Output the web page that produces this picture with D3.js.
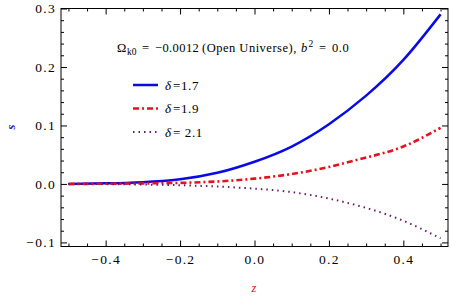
<!DOCTYPE html>
<html><head><meta charset="utf-8">
<script src="https://cdn.jsdelivr.net/npm/d3@7"></script>
<style>body{margin:0;background:#fff}svg{display:block}svg text{font-family:"Liberation Serif","Times New Roman",Times,"DejaVu Serif",serif}</style>
</head><body><svg id="c" width="450" height="298"></svg>
<script>
const zValues = [-0.5,-0.4,-0.3,-0.2,-0.1,0.0,0.1,0.2,0.3,0.4,0.5];
const sDelta17 = [0,0.001,0.003,0.008,0.019,0.038,0.064,0.102,0.151,0.212,0.290];
const sDelta19 = [0,0.0003,0.0009,0.0018,0.0042,0.009,0.017,0.029,0.045,0.064,0.096];
const sDelta21 = [0,-0.0003,-0.001,-0.0022,-0.0045,-0.008,-0.014,-0.025,-0.041,-0.063,-0.093];
const seriesLabels = ["=1.7","=1.9","= 2.1"];
const xMajor = [-0.4,-0.2,0.0,0.2,0.4];
const yMajor = [-0.1,0.0,0.1,0.2,0.3];

const svg = d3.select("#c");
const L=61,R=448,T=8.5,B=246.5;
const x = d3.scaleLinear().domain([-0.52,0.52]).range([L,R]);
const y = d3.scaleLinear().domain([-0.107,0.3]).range([B,T]);
const fmt = d3.format(".1f");
const xMinor = d3.range(-0.5,0.5001,0.05).map(v=>+v.toFixed(3)).filter(v=>!xMajor.some(m=>Math.abs(m-v)<1e-6));
const yMinor = d3.range(-0.1,0.3001,0.02).map(v=>+v.toFixed(3)).filter(v=>!yMajor.some(m=>Math.abs(m-v)<1e-6));

function styleAxis(g){g.attr("font-family",null);g.select(".domain").remove();g.selectAll("line").attr("stroke","#000");g.selectAll("text").attr("font-size",13.5).attr("letter-spacing",1.3).attr("fill","#000");}
svg.append("g").attr("transform",`translate(0,${B})`).call(d3.axisBottom(x).tickValues(xMajor).tickSize(-6).tickPadding(8).tickFormat(fmt)).call(styleAxis);
svg.append("g").attr("transform",`translate(0,${B})`).call(d3.axisBottom(x).tickValues(xMinor).tickSize(-3).tickFormat("")).call(styleAxis);
svg.append("g").attr("transform",`translate(0,${T})`).call(d3.axisTop(x).tickValues(xMajor).tickSize(-6).tickFormat("")).call(styleAxis);
svg.append("g").attr("transform",`translate(0,${T})`).call(d3.axisTop(x).tickValues(xMinor).tickSize(-3).tickFormat("")).call(styleAxis);
svg.append("g").attr("transform",`translate(${L},0)`).call(d3.axisLeft(y).tickValues(yMajor).tickSize(-6).tickPadding(5).tickFormat(fmt)).call(styleAxis);
svg.append("g").attr("transform",`translate(${L},0)`).call(d3.axisLeft(y).tickValues(yMinor).tickSize(-3).tickFormat("")).call(styleAxis);
svg.append("g").attr("transform",`translate(${R},0)`).call(d3.axisRight(y).tickValues(yMajor).tickSize(-6).tickFormat("")).call(styleAxis);
svg.append("g").attr("transform",`translate(${R},0)`).call(d3.axisRight(y).tickValues(yMinor).tickSize(-3).tickFormat("")).call(styleAxis);
svg.append("rect").attr("x",L).attr("y",T).attr("width",R-L).attr("height",B-T).attr("fill","none").attr("stroke","#000").attr("stroke-width",1);

const styles = [
 {data:sDelta17,color:"#0a0ae6",dash:null,w:2.5},
 {data:sDelta19,color:"#e6101e",dash:"6,3,2,3",w:2.6},
 {data:sDelta21,color:"#6b1a6b",dash:"1.5,4",w:2}
];
const line = d3.line().x(d=>x(d[0])).y(d=>y(d[1])).curve(d3.curveNatural);
styles.forEach(s=>{
  svg.append("path").datum(zValues.map((z,i)=>[z,s.data[i]])).attr("d",line)
   .attr("fill","none").attr("stroke",s.color).attr("stroke-width",s.w)
   .attr("stroke-dasharray",s.dash);
});

// title
const tb=52, fs=12.5;
const T1 = svg.append("g").attr("font-size",fs).attr("fill","#000");
T1.append("text").attr("x",117).attr("y",tb).text("Ω");
T1.append("text").attr("x",127).attr("y",tb+2.5).attr("font-size",9.5).text("k0");
T1.append("text").attr("x",142).attr("y",tb).text("=");
T1.append("text").attr("x",155).attr("y",tb).attr("letter-spacing",0.4).text("−0.0012");
T1.append("text").attr("x",202).attr("y",tb).attr("letter-spacing",0.5).text("(Open Universe),");
T1.append("text").attr("x",301).attr("y",tb).attr("font-style","italic").text("b");
T1.append("text").attr("x",308.5).attr("y",tb-5).attr("font-size",9.5).text("2");
T1.append("text").attr("x",319).attr("y",tb).text("=");
T1.append("text").attr("x",332).attr("y",tb).attr("letter-spacing",0.5).text("0.0");

// legend
const ly=[85,108.5,132];
styles.forEach((s,i)=>{
  svg.append("line").attr("x1",133).attr("x2",158).attr("y1",ly[i]).attr("y2",ly[i])
   .attr("stroke",s.color).attr("stroke-width",s.w).attr("stroke-dasharray",s.dash);
  svg.append("text").attr("x",165).attr("y",ly[i]+4.5).attr("font-size",13).attr("font-style","italic").attr("fill","#000").text("δ");
  svg.append("text").attr("x",173).attr("y",ly[i]+4.5).attr("font-size",13).attr("letter-spacing",0.6).attr("fill","#000").text(seriesLabels[i]);
});

// axis labels
svg.append("text").attr("transform","translate(15,127) rotate(-90)").attr("text-anchor","middle")
 .attr("font-size",12.5).attr("font-weight","bold").attr("fill","#1a1ad8").attr("font-style","italic").text("s");
svg.append("text").attr("x",254).attr("y",292).attr("text-anchor","middle")
 .attr("font-size",12.5).attr("fill","#e01010").attr("font-style","italic").text("z");
</script></body></html>
